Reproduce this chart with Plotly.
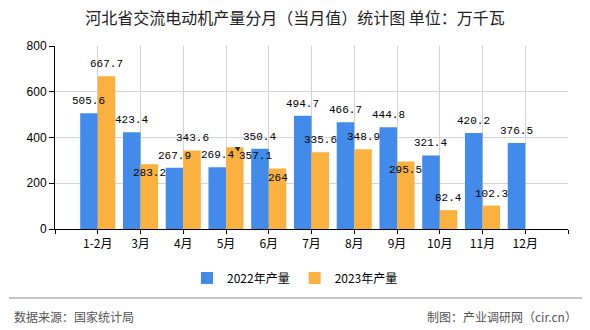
import plotly.graph_objects as go

# ---- data ----
categories = ["1-2月", "3月", "4月", "5月", "6月", "7月", "8月", "9月", "10月", "11月", "12月"]
values_2022 = [505.6, 423.4, 267.9, 269.4, 350.4, 494.7, 466.7, 444.8, 321.4, 420.2, 376.5]
values_2023 = [667.7, 283.2, 343.6, 357.1, 264.0, 335.6, 348.9, 295.5, 82.4, 102.3, None]
series_names = ["2022年产量", "2023年产量"]
y_ticks = [0, 200, 400, 600, 800]

# ---- style ----
W, H = 590, 330
ML, MR, MT, MB = 55, 22, 46, 101
BLUE = "#428BEA"
ORANGE = "#FBB13F"
GRID = "#d4d4d4"
BARGAP = 0.18
HALF = (1 - BARGAP) / 4  # centre offset of each bar inside a group
# label placement tweaks (which labels sit inside the bar top)
label_inside_2023 = {1, 4, 7}
label_arrow_2023 = {3}

PW, PH = W - ML - MR, H - MT - MB


def px_x(px):
    return (px - ML) / PW


def px_y(py):
    return (H - MB - py) / PH


xpos = list(range(1, len(categories) + 1))

fig = go.Figure()
fig.add_trace(go.Bar(x=xpos, y=values_2022, name=series_names[0], marker_color=BLUE,
                     marker_line_width=0))
fig.add_trace(go.Bar(x=xpos, y=values_2023, name=series_names[1], marker_color=ORANGE,
                     marker_line_width=0))

label_font = dict(family="Liberation Mono, DejaVu Sans Mono, monospace", size=11, color="#000")
annotations = []
for i, v in enumerate(values_2022):
    annotations.append(dict(x=xpos[i] - HALF, y=v, xref="x", yref="y", text=f"{v:g}" if v % 1 else f"{v:.0f}",
                            showarrow=False, yshift=12, font=label_font, yanchor="middle"))
for i, v in enumerate(values_2023):
    if v is None:
        continue
    txt = f"{v:g}"
    if i in label_arrow_2023:
        annotations.append(dict(x=xpos[i] + HALF, y=v, xref="x", yref="y", text=txt, showarrow=True,
                                ax=21, ay=9, arrowhead=2, arrowsize=0.8, arrowwidth=1.2,
                                arrowcolor="#222", standoff=0, font=label_font))
    elif i in label_inside_2023:
        annotations.append(dict(x=xpos[i] + HALF, y=v, xref="x", yref="y", text=txt,
                                showarrow=False, yshift=-9, font=label_font, yanchor="middle"))
    else:
        annotations.append(dict(x=xpos[i] + HALF, y=v, xref="x", yref="y", text=txt,
                                showarrow=False, yshift=12, font=label_font, yanchor="middle"))

foot_font = dict(family="Noto Sans CJK SC, sans-serif", size=12, color="#555")
annotations.append(dict(xref="paper", yref="paper", x=px_x(12), y=px_y(316), text="数据来源：国家统计局",
                        showarrow=False, xanchor="left", yanchor="middle", font=foot_font))
annotations.append(dict(xref="paper", yref="paper", x=px_x(579), y=px_y(316), text="制图：产业调研网（cir.cn）",
                        showarrow=False, xanchor="right", yanchor="middle", font=foot_font))

fig.update_layout(
    width=W, height=H,
    margin=dict(l=ML, r=MR, t=MT, b=MB, pad=0),
    paper_bgcolor="white", plot_bgcolor="white",
    barmode="group", bargap=BARGAP, bargroupgap=0,
    title=dict(text="河北省交流电动机产量分月（当月值）统计图 单位：万千瓦",
               x=0.5, xref="container", xanchor="center",
               y=1 - 18 / H, yref="container", yanchor="middle",
               font=dict(family="Noto Sans CJK SC, sans-serif", size=16, color="#222")),
    legend=dict(orientation="h", x=0.5, xref="container", xanchor="center",
                y=1 - 278 / H, yref="container", yanchor="middle",
                font=dict(family="Noto Sans CJK SC, sans-serif", size=12, color="#000"),
                itemwidth=30, tracegroupgap=0, traceorder="normal"),
    annotations=annotations,
    shapes=[dict(type="line", xref="paper", yref="paper", x0=px_x(9), x1=px_x(582),
                 y0=px_y(298), y1=px_y(298), line=dict(color="#888", width=1))],
    font=dict(family="Noto Sans CJK SC, sans-serif", size=12, color="#000"),
)

fig.update_xaxes(range=[0, len(categories) + 1],
                 tickmode="array", tickvals=[0] + xpos + [len(categories) + 1],
                 ticktext=[""] + categories + [""],
                 showgrid=True, gridcolor=GRID, gridwidth=1,
                 showline=True, linecolor="#000", linewidth=1,
                 ticks="outside", ticklen=4, tickcolor="#000",
                 tickfont=dict(family="Noto Sans CJK SC, sans-serif", size=12, color="#000"),
                 zeroline=False, fixedrange=True)
fig.update_yaxes(range=[0, 800], tickmode="array", tickvals=y_ticks,
                 showgrid=True, gridcolor=GRID, gridwidth=1,
                 showline=True, linecolor="#000", linewidth=1,
                 ticks="outside", ticklen=5, tickcolor="#000",
                 tickfont=dict(family="Liberation Sans, Arial, sans-serif", size=12, color="#000"),
                 zeroline=False, fixedrange=True)

fig.write_html("out.html")
